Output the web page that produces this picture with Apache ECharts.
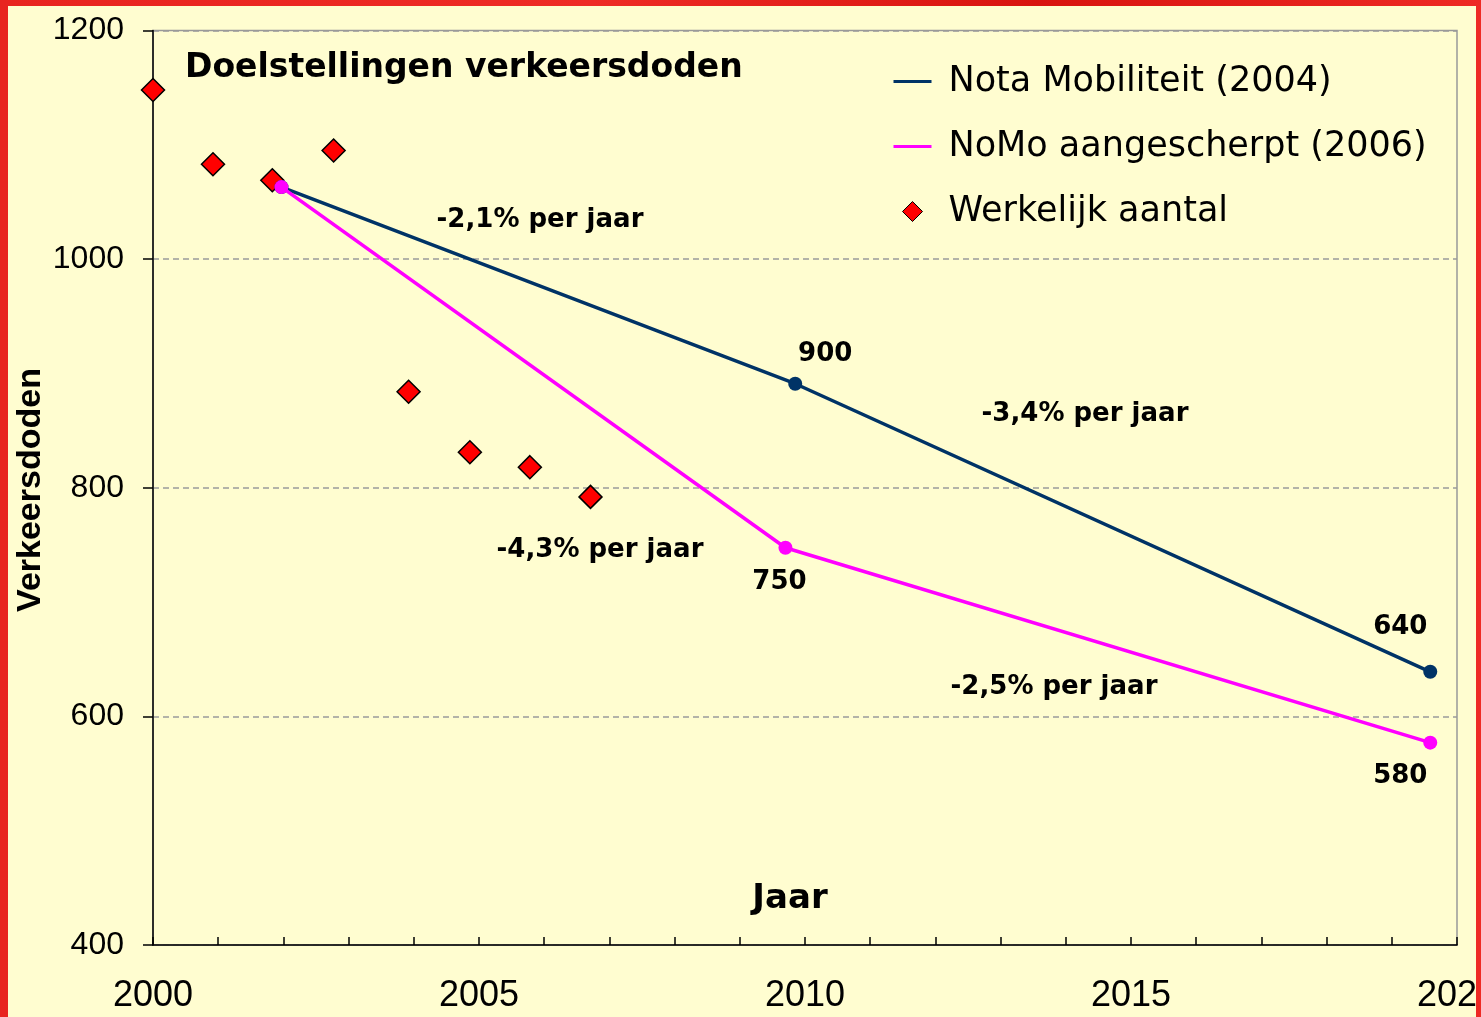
<!DOCTYPE html>
<html>
<head>
<meta charset="utf-8">
<script src="https://cdn.jsdelivr.net/npm/echarts@6/dist/echarts.min.js"></script>
<style>
  html, body { margin: 0; padding: 0; width: 1481px; height: 1017px; overflow: hidden;
    background: linear-gradient(90deg, #E8241F 0%, #EE2B25 40%, #D8140F 70%, #EE2A24 100%); }
  #chart { position: absolute; left: 8px; top: 6px; width: 1468px; height: 1011px; background: #FFFDD0; }
</style>
</head>
<body>
<div id="chart"></div>
<script>
// ---- data ----
const actualYears  = [2000.0, 2000.92, 2001.83, 2002.77, 2003.92, 2004.86, 2005.78, 2006.71];
const actualDeaths = [1148, 1083, 1069, 1095, 884, 831, 818, 792];

const notaYears  = [2001.97, 2009.85, 2019.59];
const notaValues = [1063, 891, 639];
const notaLabels = ['', '900', '640'];

const nomoYears  = [2001.97, 2009.70, 2019.59];
const nomoValues = [1063, 747.5, 577];
const nomoLabels = ['', '750', '580'];

const seriesNames = ['Nota Mobiliteit (2004)', 'NoMo aangescherpt (2006)', 'Werkelijk aantal'];
const slopeTexts  = ['-2,1% per jaar', '-3,4% per jaar', '-4,3% per jaar', '-2,5% per jaar'];
const titleText = 'Doelstellingen verkeersdoden';
const xName = 'Jaar';
const yName = 'Verkeersdoden';

// ---- styling ----
const NAVY = '#003366';
const MAGENTA = '#FF00FF';
const boldFont = 'DejaVu Sans';
const labelStyle = { fontFamily: boldFont, fontWeight: 'bold', fontSize: 26, color: '#000' };

const notaLabelOffsets = [null, [30, -29], [-30, -45]];
const nomoLabelOffsets = [null, [-6, 34], [-30, 34]];

function lineData(xs, ys, labels, offsets) {
  return xs.map((x, i) => {
    const item = { value: [x, ys[i]] };
    if (labels[i]) {
      item.label = Object.assign({ show: true, formatter: labels[i], position: 'inside',
        offset: offsets[i], align: 'center', verticalAlign: 'middle' }, labelStyle);
    }
    return item;
  });
}

const chart = echarts.init(document.getElementById('chart'), null, { renderer: 'canvas' });

const slopePositions = [[532, 214], [1077, 408], [592, 544], [1046, 681]];

const graphics = slopeTexts.map((t, i) => ({
  type: 'text', x: slopePositions[i][0], y: slopePositions[i][1], z: 100,
  style: { text: t, fontFamily: boldFont, fontWeight: 'bold', fontSize: 26, fill: '#000',
    align: 'center', verticalAlign: 'middle' }
}));
graphics.push({
  type: 'text', x: 23, y: 484, rotation: Math.PI / 2, z: 100,
  style: { text: yName, fontFamily: 'Liberation Sans', fontWeight: 'bold', fontSize: 34, fill: '#000',
    align: 'center', verticalAlign: 'middle' }
});

const option = {
  animation: false,
  backgroundColor: '#FFFDD0',
  title: {
    text: titleText, left: 177, top: 46, padding: 0,
    textStyle: { fontFamily: boldFont, fontWeight: 'bold', fontSize: 33, color: '#000', lineHeight: 33 }
  },
  grid: {
    left: 145, top: 24.5, right: 19, bottom: 72,
    containLabel: false, outerBoundsMode: 'none',
    show: true, borderColor: '#999', borderWidth: 1.5, backgroundColor: 'transparent'
  },
  legend: {
    orient: 'vertical', left: 885, top: 58, padding: 0,
    itemWidth: 50, itemHeight: 22, itemGap: 30,
    textStyle: { fontFamily: 'DejaVu Sans', fontSize: 35, color: '#000' },
    itemStyle: { borderWidth: 0 },
    data: [
      { name: seriesNames[0], icon: 'path://M0,0M50,22M0,9.5H38V12.5H0Z' },
      { name: seriesNames[1], icon: 'path://M0,0M50,22M0,9.5H38V12.5H0Z' },
      { name: seriesNames[2], icon: 'path://M0,0M50,22M19,1L29,11L19,21L9,11Z',
        itemStyle: { color: '#FF0000', borderColor: '#000', borderWidth: 1 } }
    ]
  },
  xAxis: {
    type: 'value', min: 2000, max: 2020, interval: 1,
    name: xName, nameLocation: 'middle', nameGap: -63,
    nameTextStyle: { fontFamily: boldFont, fontWeight: 'bold', fontSize: 34, color: '#000',
      lineHeight: 34, padding: [0, 30, 0, 0] },
    axisLine: { show: true, onZero: false, lineStyle: { color: '#000', width: 1.5 } },
    axisTick: { show: true, inside: true, length: 8, lineStyle: { color: '#000', width: 1.5 } },
    axisLabel: {
      fontFamily: 'Liberation Sans', fontSize: 36, color: '#000', margin: 33, lineHeight: 36,
      showMinLabel: true, showMaxLabel: true, hideOverlap: false,
      formatter: v => (Math.round(v) % 5 === 0 ? String(Math.round(v)) : '')
    },
    splitLine: { show: false }
  },
  yAxis: {
    type: 'value', min: 400, max: 1200, interval: 200,
    axisLine: { show: true, onZero: false, lineStyle: { color: '#000', width: 1.5 } },
    axisTick: { show: true, inside: false, length: 10, lineStyle: { color: '#000', width: 1.5 } },
    axisLabel: { fontFamily: 'Liberation Sans', fontSize: 32, color: '#000', margin: 29,
      formatter: v => String(v) },
    splitLine: { show: true, lineStyle: { color: '#9a9a9a', width: 1.5, type: [6, 4] } }
  },
  graphic: graphics,
  series: [
    {
      name: seriesNames[2], type: 'scatter', symbol: 'diamond', symbolSize: [23, 23], z: 2,
      itemStyle: { color: '#FF0000', borderColor: '#000', borderWidth: 1.5, opacity: 1 },
      data: actualYears.map((x, i) => [x, actualDeaths[i]])
    },
    {
      name: seriesNames[0], type: 'line', symbol: 'circle', symbolSize: 14, showAllSymbol: true, z: 3,
      lineStyle: { color: NAVY, width: 3.5 }, itemStyle: { color: NAVY, borderWidth: 0 },
      data: lineData(notaYears, notaValues, notaLabels, notaLabelOffsets)
    },
    {
      name: seriesNames[1], type: 'line', symbol: 'circle', symbolSize: 14, showAllSymbol: true, z: 4,
      lineStyle: { color: MAGENTA, width: 3.5 }, itemStyle: { color: MAGENTA, borderWidth: 0 },
      data: lineData(nomoYears, nomoValues, nomoLabels, nomoLabelOffsets)
    }
  ]
};
chart.setOption(option);
</script>
</body>
</html>
